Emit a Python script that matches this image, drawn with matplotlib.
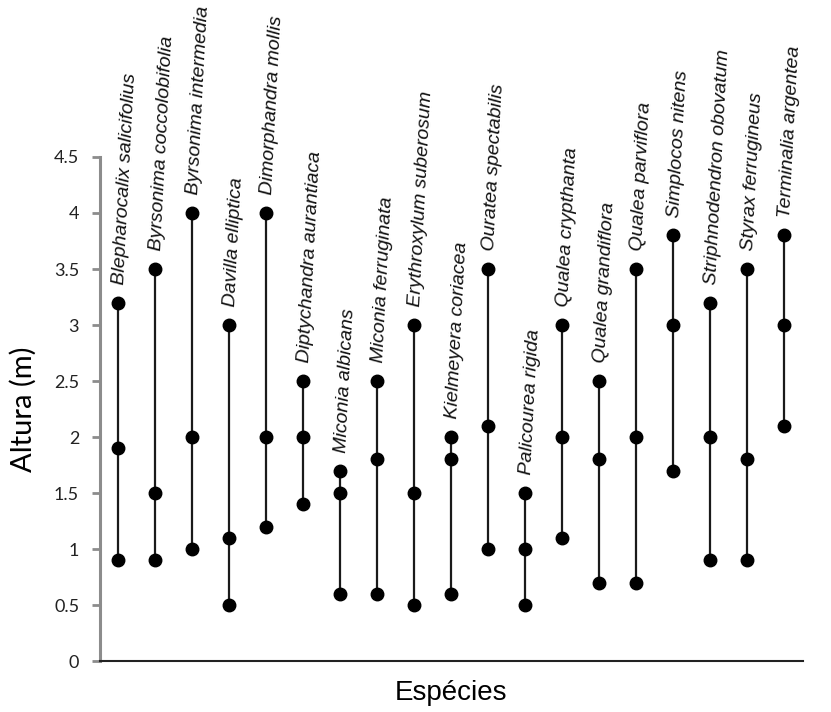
import numpy as np
import matplotlib
matplotlib.use("Agg")
import matplotlib.pyplot as plt

plt.rcParams['font.family'] = ['Liberation Sans', 'DejaVu Sans']

# dados: altura máxima, média e mínima por espécie
especies = ["Blepharocalix salicifolius", "Byrsonima coccolobifolia",
            "Byrsonima intermedia", "Davilla elliptica", "Dimorphandra mollis",
            "Diptychandra aurantiaca", "Miconia albicans", "Miconia ferruginata",
            "Erythroxylum suberosum", "Kielmeyera coriacea", "Ouratea spectabilis",
            "Palicourea rigida", "Qualea crypthanta", "Qualea grandiflora",
            "Qualea parviflora", "Simplocos nitens", "Striphnodendron obovatum",
            "Styrax ferrugineus", "Terminalia argentea"]
alt_max = [3.2, 3.5, 4.0, 3.0, 4.0, 2.5, 1.7, 2.5, 3.0, 2.0, 3.5, 1.5, 3.0, 2.5, 3.5, 3.8, 3.2, 3.5, 3.8]
alt_med = [1.9, 1.5, 2.0, 1.1, 2.0, 2.0, 1.5, 1.8, 1.5, 1.8, 2.1, 1.0, 2.0, 1.8, 2.0, 3.0, 2.0, 1.8, 3.0]
alt_min = [0.9, 0.9, 1.0, 0.5, 1.2, 1.4, 0.6, 0.6, 0.5, 0.6, 1.0, 0.5, 1.1, 0.7, 0.7, 1.7, 0.9, 0.9, 2.1]
yticks = [0, 0.5, 1, 1.5, 2, 2.5, 3, 3.5, 4, 4.5]

fig = plt.figure(figsize=(8.31, 7.12), dpi=100)
ax = fig.add_axes([0.1203, 0.0716, 0.8460, 0.7079])

x = np.arange(len(especies))
ax.vlines(x, alt_min, alt_max, color="#1a1a1a", lw=1.6, zorder=2)
for serie in [alt_max, alt_med, alt_min]:
    ax.plot(x, serie, ls="none", marker="o", ms=9, color="black", zorder=3)

for i in range(len(especies)):
    ax.annotate(especies[i], (x[i], alt_max[i]), xytext=(0.5, 13), textcoords="offset points",
                rotation=87, rotation_mode="anchor", ha="left", va="center",
                fontsize=14, style="italic", color="#111111", annotation_clip=False)

ax.set_xlim(-0.5, len(especies) - 0.5)
ax.set_ylim(0, 4.5)
ax.set_yticks(yticks)
ax.set_yticklabels([("%g" % v) for v in yticks], fontsize=13, family="Lato", color="#222222")
ax.set_xticks([])

for s in ["top", "right"]:
    ax.spines[s].set_visible(False)
ax.spines["left"].set_color("#8c8c8c")
ax.spines["left"].set_linewidth(2.2)
ax.spines["bottom"].set_color("#222222")
ax.spines["bottom"].set_linewidth(1.5)
ax.tick_params(axis="y", colors="#8c8c8c", width=2, length=6, labelcolor="#222222", pad=9)

ax.set_ylabel("Altura (m)", fontsize=21, family="Lato", labelpad=12)
ax.set_xlabel("Espécies", fontsize=20, labelpad=14)

fig.savefig("out.png", dpi=100)
